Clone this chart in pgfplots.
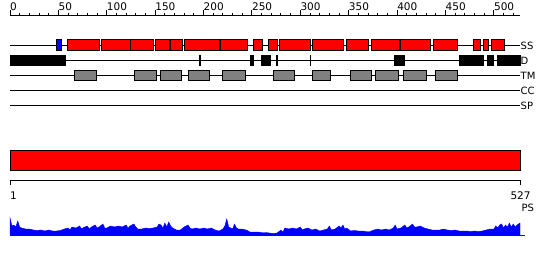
\documentclass[border=0pt]{standalone}
\usepackage{pgfplots}
\pgfplotsset{compat=1.18}
\usepackage{pgfplotstable}
\usepackage{fontspec}
\setmainfont{DejaVu Sans}

\pgfplotstableread{
r h
0 0
0 17
2 9
4 10
6 8
8 14
10 8
12 7
16 6
20 6
24 5
28 4.5
32 5
36 4
40 5
44 4
48 4
52 4.5
56 6
60 7
62 5
64 8
68 7
72 9
74 6
76 7.5
80 9
82 6
84 8
88 10
90 7
92 8
96 11
98 7
100 7
104 9
108 8
112 9
116 8
120 10
122 7
124 9
128 11
130 8
132 6
136 6
140 7
144 6.5
148 7
152 8
154 11
156 10
158 7
160 12
162 8
164 13
166 9
168 7
172 5
176 5
180 8
184 10
186 7
188 6
192 7
196 6
200 7
204 6
208 7
212 5
216 4
220 6
222 9
224 16
226 8
228 7
230 6
232 11
234 7
236 6
240 6
244 5
248 3
252 3
256 3
260 2.5
264 2.5
268 2
272 1.5
276 2
280 5
282 3
284 7
288 6
292 7
296 6
300 8
302 5
304 6
308 7
312 5
316 6
320 4
324 5
328 6
330 9
332 5
336 6
340 9
342 7
344 10
346 6
348 7
352 4
356 4.5
360 4
364 4
368 3.5
372 3.5
376 5
380 6
384 5
388 6
392 5
396 7
398 10
400 6
404 7
408 10
410 7
412 8
416 11
418 8
420 8
424 9
428 7
432 6
436 5
440 5
444 5
448 6
452 5
456 4.5
460 5
464 4
468 4
472 4
476 3.5
480 4
484 3.5
488 4
492 5
496 6
500 6
502 9
504 7
506 10
508 11
510 7
512 10
514 8
516 12
518 8
520 11
522 8
524 10
527 12
527 0
}\profile

\newcommand{\featbox}[5]{\addplot[#5] coordinates {(#1,#3) (#2,#3) (#2,#4) (#1,#4)} -- cycle;}

\begin{document}
\begin{tikzpicture}
\begin{axis}[
  scale only axis, width=550pt, height=260pt,
  xmin=-10.3333, xmax=558, ymin=0, ymax=260,
  y dir=reverse, hide axis, clip=false,
  every axis plot/.append style={line width=1pt},
]
\path (rel axis cs:0,0) rectangle (rel axis cs:1,1);

% top ruler
\addplot[black] coordinates {(0,15) (527,15)};
\pgfplotsinvokeforeach{0,10,...,520}{\addplot[black] coordinates {(#1,12.7) (#1,15)};}
\pgfplotsinvokeforeach{0,50,...,500}{
  \addplot[black] coordinates {(#1,10) (#1,15)};
  \node[anchor=base west, inner sep=0pt, font=\fontsize{10.5}{12}\selectfont] at (axis cs:#1,10.3) {#1};
}

% row lines
\pgfplotsinvokeforeach{45.2,60.3,75.3,90.3,105.3}{\addplot[black] coordinates {(0,#1) (527,#1)};}
\node[anchor=west, inner sep=0pt, font=\fontsize{10}{12}\selectfont] at (axis cs:527.5,45.5) {SS};
\node[anchor=west, inner sep=0pt, font=\fontsize{10}{12}\selectfont] at (axis cs:527.5,60.5) {D};
\node[anchor=west, inner sep=0pt, font=\fontsize{10}{12}\selectfont] at (axis cs:527.5,75.5) {TM};
\node[anchor=west, inner sep=0pt, font=\fontsize{10}{12}\selectfont] at (axis cs:527.5,90.5) {CC};
\node[anchor=west, inner sep=0pt, font=\fontsize{10}{12}\selectfont] at (axis cs:527.5,105.5) {SP};

% SS row
\featbox{47.8}{53.4}{39.7}{50.7}{fill=blue, draw=black}
\featbox{59}{92.6}{39.7}{50.7}{fill=red, draw=black}
\featbox{95}{124}{39.7}{50.7}{fill=red, draw=black}
\featbox{125}{148}{39.7}{50.7}{fill=red, draw=black}
\featbox{150}{165}{39.7}{50.7}{fill=red, draw=black}
\featbox{166}{178}{39.7}{50.7}{fill=red, draw=black}
\featbox{180}{216}{39.7}{50.7}{fill=red, draw=black}
\featbox{218}{245.5}{39.7}{50.7}{fill=red, draw=black}
\featbox{252}{261}{39.7}{50.7}{fill=red, draw=black}
\featbox{267}{276.5}{39.7}{50.7}{fill=red, draw=black}
\featbox{278.3}{310}{39.7}{50.7}{fill=red, draw=black}
\featbox{312.3}{345}{39.7}{50.7}{fill=red, draw=black}
\featbox{347.3}{370}{39.7}{50.7}{fill=red, draw=black}
\featbox{373.3}{402}{39.7}{50.7}{fill=red, draw=black}
\featbox{403.3}{434}{39.7}{50.7}{fill=red, draw=black}
\featbox{437.3}{462}{39.7}{50.7}{fill=red, draw=black}
\featbox{478.7}{486}{39.7}{50.7}{fill=red, draw=black}
\featbox{489}{494.5}{39.7}{50.7}{fill=red, draw=black}
\featbox{497.3}{510.6}{39.7}{50.7}{fill=red, draw=black}

% D row
\featbox{0}{57.5}{55.2}{65.5}{fill=black, draw=black}
\featbox{195.8}{197.3}{55.2}{65.5}{fill=black, draw=black}
\featbox{248}{252}{55.2}{65.5}{fill=black, draw=black}
\featbox{260}{269.5}{55.2}{65.5}{fill=black, draw=black}
\featbox{275.2}{276.3}{55.2}{65.5}{fill=black, draw=black}
\addplot[black, line width=0.8pt] coordinates {(310.2,55.2) (310.2,65.5)};
\featbox{397}{407.5}{55.2}{65.5}{fill=black, draw=black}
\featbox{464}{489.5}{55.2}{65.5}{fill=black, draw=black}
\featbox{493}{500}{55.2}{65.5}{fill=black, draw=black}
\featbox{504}{527}{55.2}{65.5}{fill=black, draw=black}

% TM row
\featbox{66.5}{89.5}{70.2}{80.5}{fill=gray, draw=black}
\featbox{128.5}{151.5}{70.2}{80.5}{fill=gray, draw=black}
\featbox{155}{177}{70.2}{80.5}{fill=gray, draw=black}
\featbox{184}{206.3}{70.2}{80.5}{fill=gray, draw=black}
\featbox{220}{243.5}{70.2}{80.5}{fill=gray, draw=black}
\featbox{272}{294}{70.2}{80.5}{fill=gray, draw=black}
\featbox{313}{331}{70.2}{80.5}{fill=gray, draw=black}
\featbox{351.5}{373.5}{70.2}{80.5}{fill=gray, draw=black}
\featbox{378}{401}{70.2}{80.5}{fill=gray, draw=black}
\featbox{407}{430.5}{70.2}{80.5}{fill=gray, draw=black}
\featbox{439.5}{462.5}{70.2}{80.5}{fill=gray, draw=black}

% big bar
\featbox{0}{527}{150.3}{170.5}{fill=red, draw=black}

% second ruler
\addplot[black] coordinates {(0,185) (0,180.7) (527,180.7) (527,185)};
\node[anchor=base west, inner sep=0pt, font=\fontsize{10.5}{12}\selectfont] at (axis cs:0,199.5) {1};
\node[anchor=base west, inner sep=0pt, font=\fontsize{10.5}{12}\selectfont] at (axis cs:517,199.5) {527};
\node[anchor=base west, inner sep=0pt, font=\fontsize{10}{12}\selectfont] at (axis cs:528.5,211.5) {PS};

% profile
\addplot[fill=blue, draw=blue, line width=0.4pt] table[x=r, y expr=235-\thisrow{h}] {\profile} -- cycle;
\addplot[blue, line width=0.8pt] coordinates {(0,235) (532,235)};
\end{axis}
\end{tikzpicture}
\end{document}
